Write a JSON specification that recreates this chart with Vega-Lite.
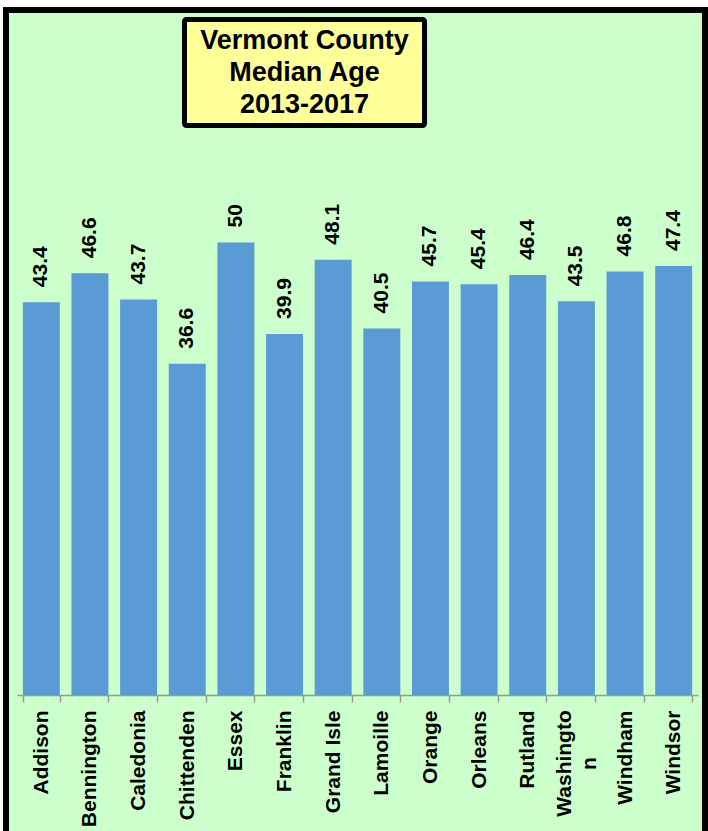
{
  "$schema": "https://vega.github.io/schema/vega-lite/v6.json",
  "autosize": {"type": "none"},
  "padding": {"left": 6, "top": 10, "right": 3, "bottom": -5},
  "width": 699,
  "height": 826,
  "background": "white",
  "config": {
    "view": {"fill": "#CCFFCC", "stroke": "black", "strokeWidth": 6},
    "font": "Liberation Sans"
  },
  "data": {
    "values": [
      {"county": "Addison", "age": 43.4},
      {"county": "Bennington", "age": 46.6},
      {"county": "Caledonia", "age": 43.7},
      {"county": "Chittenden", "age": 36.6},
      {"county": "Essex", "age": 50},
      {"county": "Franklin", "age": 39.9},
      {"county": "Grand Isle", "age": 48.1},
      {"county": "Lamoille", "age": 40.5},
      {"county": "Orange", "age": 45.7},
      {"county": "Orleans", "age": 45.4},
      {"county": "Rutland", "age": 46.4},
      {"county": "Washington", "age": 43.5},
      {"county": "Windham", "age": 46.8},
      {"county": "Windsor", "age": 47.4}
    ]
  },
  "encoding": {
    "x": {
      "field": "county",
      "type": "nominal",
      "sort": null,
      "scale": {"range": [11, 692], "paddingInner": 0.24, "paddingOuter": 0.12},
      "axis": {
        "title": null,
        "offset": -141,
        "domainColor": "#999999",
        "domainWidth": 1.5,
        "tickColor": "#999999",
        "tickWidth": 1.5,
        "tickSize": 7,
        "tickBand": "extent",
        "labelAngle": -90,
        "labelAlign": {"condition": {"test": "datum.value == 'Washington'", "value": "center"}, "value": "right"},
        "labelBaseline": "middle",
        "labelPadding": {"condition": {"test": "datum.value == 'Washington'", "value": 61}, "value": 8},
        "labelOffset": {"condition": {"test": "datum.value == 'Washington'", "value": -12}, "value": 0},
        "labelFontSize": 21,
        "labelFontWeight": "bold",
        "labelColor": "black",
        "labelFont": "Liberation Sans",
        "labelLimit": 300,
        "labelOverlap": false,
        "labelLineHeight": 25,
        "labelExpr": "datum.value == 'Washington' ? ['Washingto', 'n'] : datum.label",
        "grid": false
      }
    }
  },
  "layer": [
    {
      "mark": {"type": "bar", "color": "#5B9BD5"},
      "encoding": {
        "y": {
          "field": "age",
          "type": "quantitative",
          "scale": {"domain": [-15.58, 75.69], "nice": false, "zero": false},
          "axis": null
        },
        "y2": {"datum": 0}
      }
    },
    {
      "mark": {
        "type": "text",
        "angle": 270,
        "align": "left",
        "baseline": "middle",
        "dx": 15,
        "fontSize": 21,
        "fontWeight": "bold",
        "font": "Liberation Sans",
        "color": "black"
      },
      "encoding": {
        "y": {"field": "age", "type": "quantitative"},
        "text": {"field": "age", "type": "quantitative"}
      }
    },
    {
      "data": {"values": [{"title": "Vermont County\nMedian Age\n2013-2017"}]},
      "mark": {"type": "rect", "fill": "#FFFF99", "stroke": "black", "strokeWidth": 5, "cornerRadius": 2},
      "encoding": {
        "x": {"datum": "Chittenden", "bandPosition": 0.425},
        "x2": {"datum": "Orange", "bandPosition": 0.339},
        "y": {"datum": 74.64},
        "y2": {"datum": 62.93}
      }
    },
    {
      "data": {"values": [{"title": "Vermont County\nMedian Age\n2013-2017"}]},
      "mark": {
        "type": "text",
        "lineBreak": "\n",
        "lineHeight": 32,
        "align": "center",
        "baseline": "middle",
        "fontSize": 27,
        "fontWeight": "bold",
        "font": "Liberation Sans",
        "color": "black"
      },
      "encoding": {
        "x": {"datum": "Franklin", "bandPosition": 1.04},
        "y": {"datum": 72.3},
        "text": {"field": "title", "type": "nominal"}
      }
    }
  ]
}
